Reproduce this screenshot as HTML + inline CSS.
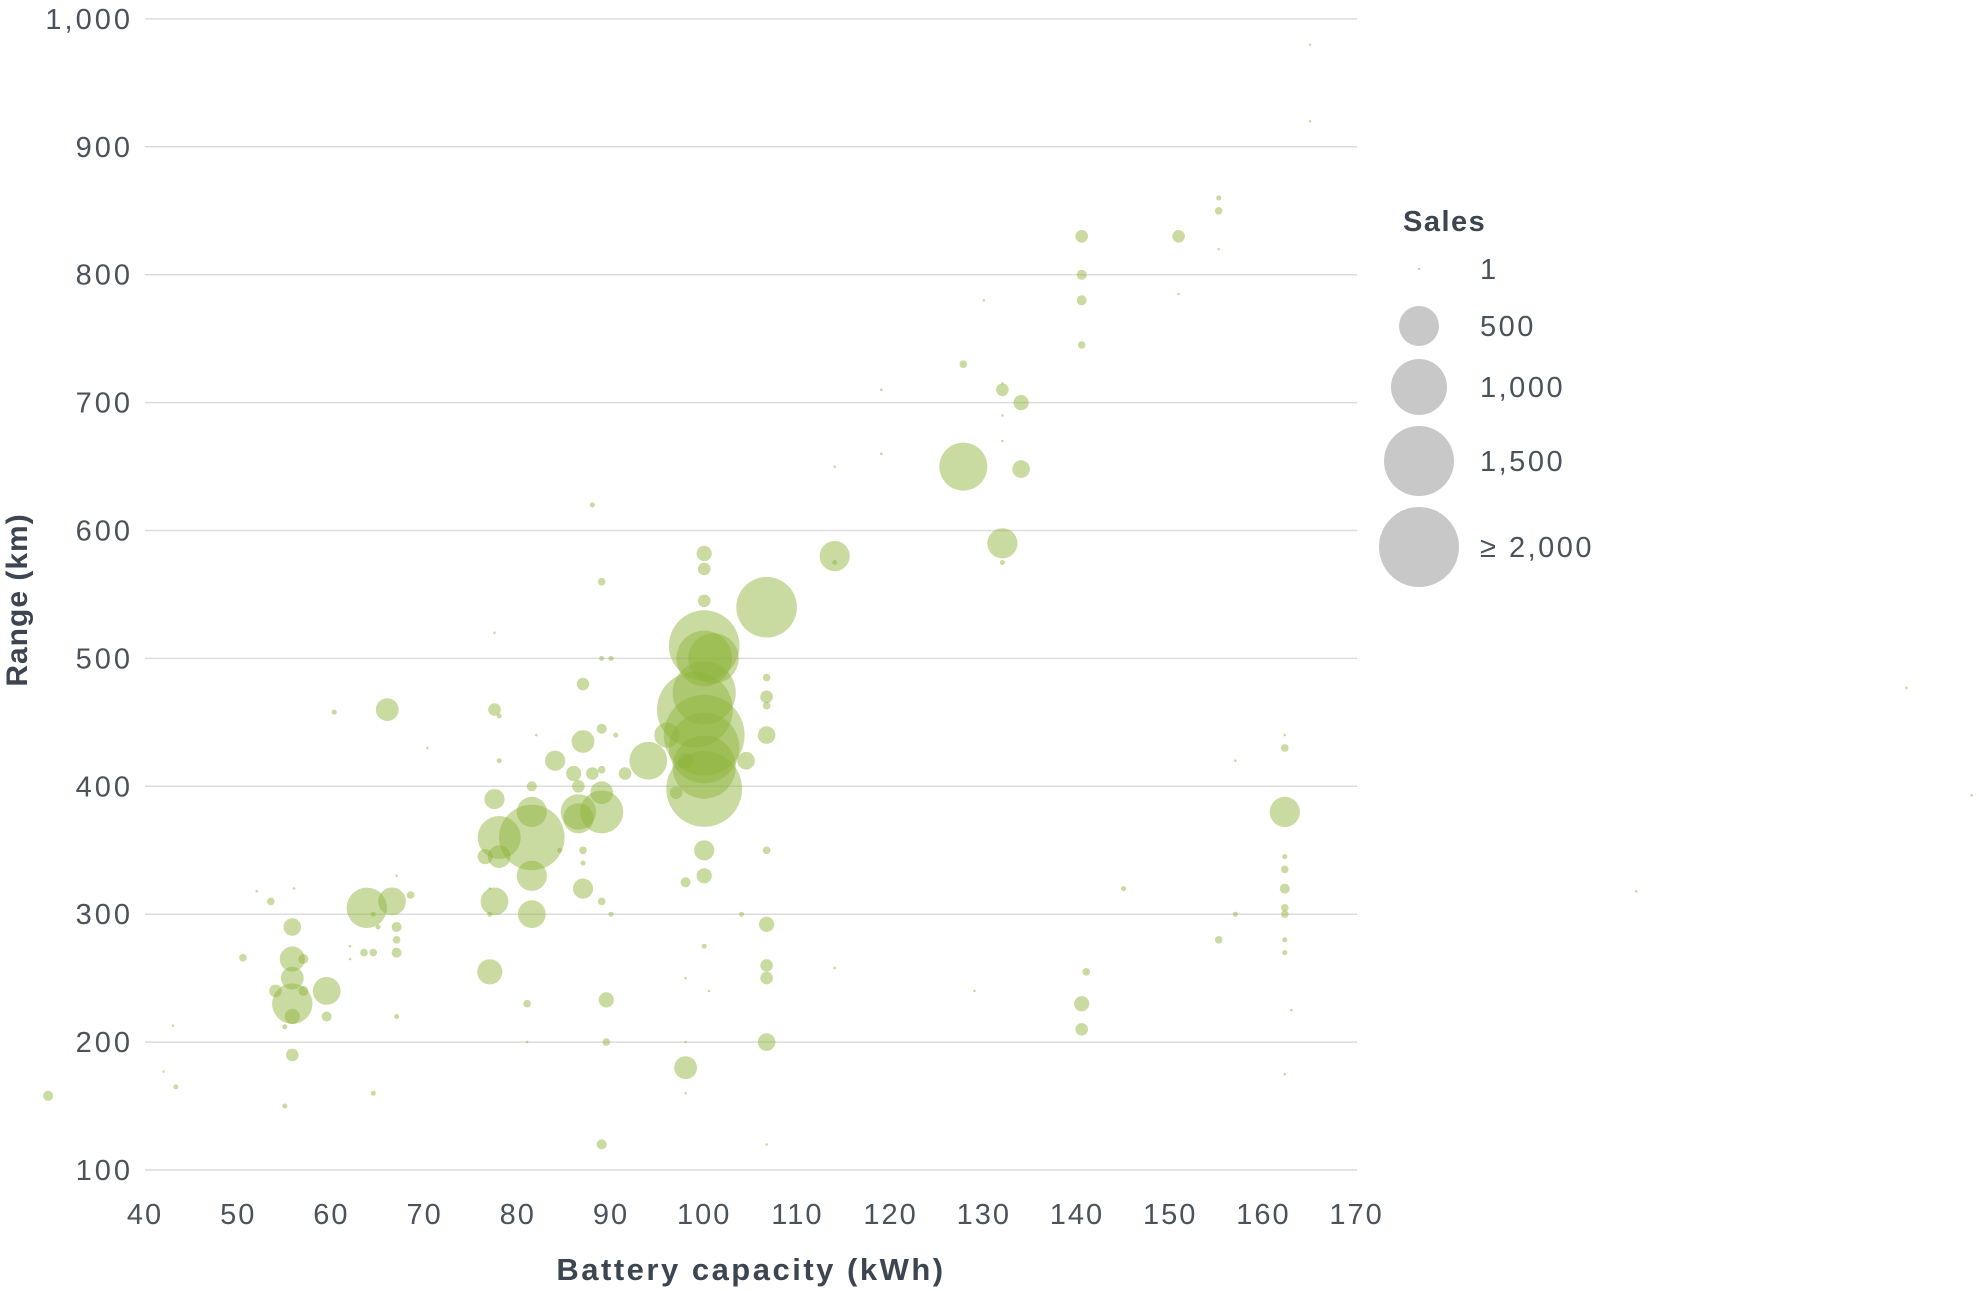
<!DOCTYPE html>
<html><head><meta charset="utf-8"><style>
html,body{margin:0;padding:0;background:#fff;}
svg{display:block;font-family:"Liberation Sans",sans-serif;}
</style></head><body>
<svg id="c" width="1979" height="1291" viewBox="0 0 1979 1291" xmlns="http://www.w3.org/2000/svg">
<g id="grid" stroke="#dcdcdc" stroke-width="1.5"></g>
<g id="yl" fill="#4a525b" font-size="29" letter-spacing="3" text-anchor="end"></g>
<g id="xl" fill="#4a525b" font-size="29" letter-spacing="2" text-anchor="middle"></g>
<text x="751" y="1280" fill="#3d4650" font-size="31" font-weight="bold" letter-spacing="2.5" text-anchor="middle">Battery capacity (kWh)</text>
<text transform="translate(27,600) rotate(-90)" fill="#3d4650" font-size="30" font-weight="bold" letter-spacing="1" text-anchor="middle">Range (km)</text>
<g id="pts" fill="#8fb33a" fill-opacity="0.48"></g>
<g fill="#c8c8c8">
<text x="1403" y="231" fill="#3d4650" font-size="29" font-weight="bold" letter-spacing="1.5">Sales</text>
<circle cx="1419" cy="269" r="1.2"/>
<circle cx="1419" cy="326" r="20"/>
<circle cx="1419" cy="387" r="28"/>
<circle cx="1419" cy="461" r="35"/>
<circle cx="1419" cy="547" r="40"/>
</g>
<g fill="#4a525b" font-size="29" letter-spacing="2.5">
<text x="1480" y="279">1</text>
<text x="1480" y="336">500</text>
<text x="1480" y="397">1,000</text>
<text x="1480" y="471">1,500</text>
<text x="1480" y="557">≥ 2,000</text>
</g>
</svg>
<script>
var X=function(k){return 145+(k-40)*9.32;},Y=function(v){return 1170-(v-100)*1.279;};
var ns="http://www.w3.org/2000/svg";
function el(p,t,a,txt){var e=document.createElementNS(ns,t);for(var k in a)e.setAttribute(k,a[k]);if(txt!==undefined)e.textContent=txt;document.getElementById(p).appendChild(e);}
for(var v=100;v<=1000;v+=100){el('grid','line',{x1:145,x2:1357,y1:Y(v),y2:Y(v)});el('yl','text',{x:133,y:Y(v)+10},v==1000?'1,000':String(v));}
for(var k=40;k<=170;k+=10){el('xl','text',{x:X(k),y:1224},String(k));}
var d=[[29.6,158,4],[229,477,1],[200,318,1],[236,393,1],
[43,213,1],[42,177,1],[43.3,165,2],[50.5,266,3],[52,318,1],[53.5,310,3],[54,240,5],[55,150,2],[55,212,2],[55.8,290,7],[55.8,265,10],[55.8,250,9],[55.8,230,16],[55.8,220,6],[55.8,190,5],[56,320,1],[57,265,4],[57,240,4],[59.5,240,11],[59.5,220,4],[60.3,458,2],[62,275,1],[62,265,1],[63.5,270,3],[63.8,305,16],[64.5,300,2],[64.5,270,3],[64.5,160,2],[65,290,2],[66,460,9],[66.5,310,11],[67,290,4],[67,280,3],[67,270,4],[67,220,2],[67,330,1],[68.5,315,3],[70.3,430,1],
[76.5,345,6],[77,255,10],[77,300,2],[77,320,1],[77.5,310,11],[77.5,520,1],[77.5,460,5],[77.5,390,8],[78,345,9],[78,360,17],[78,455,2],[78,420,2],[81.5,360,26],[81.5,380,12],[81.5,330,12],[81.5,300,11],[81.5,400,4],[81,230,3],[81,200,1],[82,440,1],[84,420,8],[84.5,350,2],[86,410,6],[86.5,380,14],[86.5,375,12],[86.5,400,5],[87,435,9],[87,480,5],[87,320,8],[87,350,3],[87,340,2],[88,620,2],[88,410,5],[89,380,17],[89,395,9],[89,413,3],[89,445,4],[89,560,3],[89,500,2],[89.5,233,6],[89,120,4],[89.5,200,3],[89,310,3],[90,300,2],[90,500,2],[90.5,440,2],[91.5,410,5],[94,420,15],[96,440,10],[97,395,5],[98,420,6],[98,180,9],[98,325,4],[98,160,1],[98,200,1],[98,250,1],[99,460,30],[100,510,28],[100,500,22],[100,473,25],[100,440,32],[100,430,28],[100,415,25],[100,398,30],[100,545,5],[100,570,5],[100,582,6],[100,350,8],[100,330,6],[100,275,2],[100.5,240,1],[101,500,20],[104.5,420,7],[104,300,2],
[106.7,540,24],[106.7,470,5],[106.7,485,3],[106.7,440,7],[106.7,350,3],[106.7,292,6],[106.7,260,5],[106.7,250,5],[106.7,200,7],[106.7,120,1],[106.7,463,3],[114,580,12],[114,575,2],[114,650,1],[114,258,1],[119,710,1],[119,660,1],[127.8,650,19],[127.8,730,3],[129,240,1],[130,780,1],[132,715,1],[132,710,5],[132,690,1],[132,670,1],[132,590,12],[132,575,2],[134,700,6],[134,648,7],[140.5,830,5],[140.5,800,4],[140.5,780,4],[140.5,745,3],[140.5,230,6],[140.5,210,5],[141,255,3],[145,320,2],[150.9,830,5],[150.9,785,1],[155.2,860,2],[155.2,850,3],[155.2,820,1],[155.2,280,3],[157,420,1],[157,300,2],[162.3,380,12],[162.3,430,3],[162.3,440,1],[162.3,345,2],[162.3,335,3],[162.3,320,4],[162.3,305,3],[162.3,300,3],[162.3,280,2],[162.3,270,2],[162.3,175,1],[163,225,1],[165,980,1],[165,920,1]];
d.forEach(function(p){el('pts','circle',{cx:X(p[0]).toFixed(1),cy:Y(p[1]).toFixed(1),r:(p[2]*1.262).toFixed(1)});});
</script>
</body></html>
